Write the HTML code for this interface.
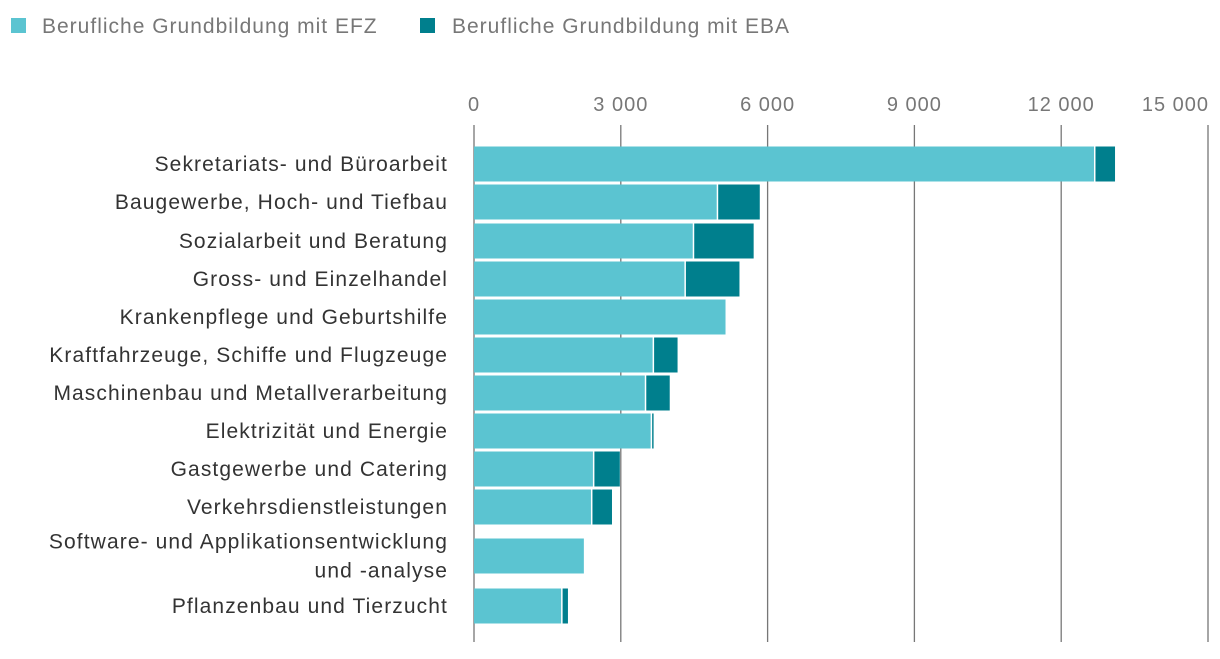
<!DOCTYPE html>
<html><head><meta charset="utf-8">
<style>
body{margin:0;background:#fff;font-family:"Liberation Sans",Arial,sans-serif;}
svg text{font-family:"Liberation Sans",Arial,sans-serif;}
</style></head>
<body>
<svg width="1220" height="654" id="chart">
<g>
<rect x="11" y="18" width="15" height="15" fill="#5bc4d1"/>
<text x="42" y="33" font-size="21" letter-spacing="1" fill="#777">Berufliche Grundbildung mit EFZ</text>
<rect x="420" y="18" width="15" height="15" fill="#007f8d"/>
<text x="452" y="33" font-size="21" letter-spacing="1" fill="#777">Berufliche Grundbildung mit EBA</text>
</g>
</svg>
<script>
const categories=[["Sekretariats- und Büroarbeit"],["Baugewerbe, Hoch- und Tiefbau"],["Sozialarbeit und Beratung"],["Gross- und Einzelhandel"],["Krankenpflege und Geburtshilfe"],["Kraftfahrzeuge, Schiffe und Flugzeuge"],["Maschinenbau und Metallverarbeitung"],["Elektrizität und Energie"],["Gastgewerbe und Catering"],["Verkehrsdienstleistungen"],["Software- und Applikationsentwicklung","und -analyse"],["Pflanzenbau und Tierzucht"]];
const efz=[12670,4960,4470,4300,5140,3650,3490,3610,2430,2390,2245,1780];
const eba=[430,880,1245,1125,0,510,510,60,550,430,0,140];
const ticks=[0,3000,6000,9000,12000,15000];
const tickLabels=["0","3 000","6 000","9 000","12 000","15 000"];
const centers=[164,202,241,279,317,355,393,431,469,507,556,606];
const NS="http://www.w3.org/2000/svg";
const svg=document.getElementById('chart');
const x=v=>474+v*(1208-474)/15000;
function mk(t,a){const e=document.createElementNS(NS,t);for(const k in a)e.setAttribute(k,a[k]);svg.appendChild(e);return e;}
ticks.forEach((t,i)=>{
 const l=mk('line',{x1:x(t),x2:x(t),y1:125,y2:642,stroke:'#777','stroke-width':1.3});
 
 
 const last=i===ticks.length-1;
 const tx=mk('text',{x:last?1209:x(t),y:111,'text-anchor':last?'end':'middle','font-size':20,'letter-spacing':1,fill:'#777'});
 tx.textContent=tickLabels[i];
 
 
});
categories.forEach((c,i)=>{
 const cy=centers[i],h=35;
 const b1=mk('rect',{x:x(0),y:cy-h/2,width:x(efz[i])-x(0),height:h,fill:'#5bc4d1'});
 
 
 if(eba[i]>0){
  const b2=mk('rect',{x:x(efz[i])+1.5,y:cy-h/2,width:Math.max(1,x(efz[i]+eba[i])-x(efz[i])-1.5),height:h,fill:'#007f8d'});
  
  
 }
 const n=c.length;
 c.forEach((line,j)=>{
  const t=mk('text',{x:448,y:cy+7+(j-(n-1)/2)*29,'text-anchor':'end','font-size':21,'letter-spacing':1.1,fill:'#333'});
  t.textContent=line;
  
  
 });
});
</script>
</body></html>
